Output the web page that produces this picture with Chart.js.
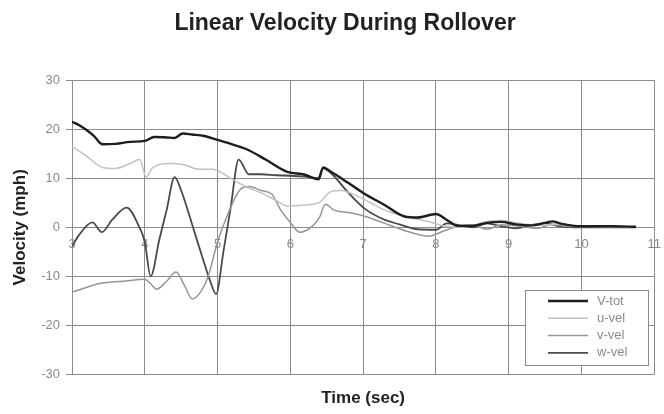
<!DOCTYPE html>
<html>
<head>
<meta charset="utf-8">
<script src="https://cdn.jsdelivr.net/npm/chart.js@4/dist/chart.umd.min.js"></script>
<style>
  html, body { margin: 0; padding: 0; background: #fff; }
</style>
</head>
<body>
<canvas id="chart" width="664" height="414"></canvas>
<script>
const TITLE = 'Linear Velocity During Rollover';
const X_TITLE = 'Time (sec)';
const Y_TITLE = 'Velocity (mph)';
const SERIES_LABELS = ['V-tot', 'u-vel', 'v-vel', 'w-vel'];

// temps (s) et valeurs (mph)
const T_VTOT = [3.0, 3.1, 3.2, 3.3, 3.42, 3.6, 3.8, 4.0, 4.13, 4.3, 4.41, 4.52, 4.65, 4.82, 5.0, 5.2, 5.4, 5.66, 5.94, 6.2, 6.39, 6.45, 6.56, 6.8, 7.0, 7.3, 7.57, 7.75, 8.0, 8.15, 8.3, 8.5, 8.7, 8.9, 9.1, 9.3, 9.5, 9.6, 9.7, 9.9, 10.1, 10.4, 10.75];
const VTOT = [21.5, 20.8, 19.8, 18.6, 16.9, 17.0, 17.4, 17.6, 18.4, 18.3, 18.2, 19.1, 18.9, 18.6, 17.8, 16.9, 15.9, 13.8, 11.4, 10.7, 9.8, 12.2, 11.3, 9.0, 7.0, 4.5, 2.2, 2.0, 2.7, 1.5, 0.3, 0.3, 0.9, 1.1, 0.6, 0.4, 0.9, 1.2, 0.8, 0.3, 0.2, 0.2, 0.1];

const T_U = [3.0, 3.2, 3.42, 3.6, 3.8, 3.93, 4.02, 4.1, 4.2, 4.35, 4.52, 4.75, 4.93, 5.05, 5.2, 5.4, 5.6, 5.8, 5.97, 6.15, 6.39, 6.56, 6.7, 6.9, 7.1, 7.3, 7.5, 7.7, 7.9, 8.1, 8.3, 8.5, 8.7, 8.9, 9.1, 9.3, 9.5, 9.7, 9.9, 10.2, 10.5, 10.75];
const U_VEL = [16.5, 14.5, 12.2, 12.0, 13.0, 13.8, 10.2, 12.0, 12.8, 13.0, 12.8, 11.8, 11.8, 11.2, 9.8, 8.2, 7.0, 5.5, 4.3, 4.5, 5.0, 7.3, 7.5, 6.5, 5.0, 3.5, 2.5, 1.8, 1.2, 0.3, 0.0, 0.3, 1.2, 1.4, 0.9, 0.5, 0.4, 0.6, 0.2, 0.2, 0.1, 0.0];

const T_V = [3.0, 3.4, 3.7, 4.0, 4.08, 4.16, 4.3, 4.43, 4.55, 4.65, 4.75, 4.87, 5.0, 5.15, 5.3, 5.43, 5.6, 5.75, 5.86, 6.0, 6.13, 6.3, 6.4, 6.48, 6.6, 6.8, 7.03, 7.3, 7.6, 7.9, 8.1, 8.3, 8.5, 8.7, 8.9, 9.1, 9.4, 9.6, 9.8, 10.1, 10.4, 10.75];
const V_VEL = [-13.2, -11.4, -11.0, -10.6, -11.5, -12.6, -11.0, -9.1, -12.0, -14.6, -13.5, -10.0, -3.0, 3.0, 7.5, 8.3, 7.5, 6.7, 3.7, 1.0, -1.0, 0.2, 2.0, 4.7, 3.5, 3.0, 2.2, 0.8, -0.8, -1.8, -0.8, 0.2, 0.5, -0.4, 0.5, 0.3, -0.2, 0.6, 0.2, 0.1, 0.0, 0.0];

const T_W = [3.0, 3.1, 3.28, 3.41, 3.55, 3.75, 3.92, 4.0, 4.08, 4.2, 4.3, 4.41, 4.5, 4.6, 4.7, 4.8, 4.9, 4.98, 5.08, 5.18, 5.29, 5.43, 5.6, 5.8, 6.0, 6.2, 6.38, 6.45, 6.56, 6.8, 7.03, 7.3, 7.5, 7.75, 8.0, 8.15, 8.3, 8.5, 8.7, 8.9, 9.1, 9.3, 9.5, 9.7, 10.0, 10.4, 10.75];
const W_VEL = [-3.9, -1.5, 1.0, -1.0, 1.5, 4.0, 0.2, -3.0, -10.0, -2.5, 3.5, 10.2, 7.5, 3.0, -1.8, -6.5, -11.0, -13.6, -5.0, 4.0, 13.8, 10.8, 10.8, 10.6, 10.5, 10.3, 10.0, 12.0, 11.0, 7.0, 3.7, 1.5, 0.6, -0.4, -0.5, 0.8, 0.5, 0.0, 0.8, 0.2, -0.2, 0.4, 0.8, 0.2, 0.0, 0.0, 0.0];

const X_MIN = 3, X_MAX = 11, Y_MIN = -30, Y_MAX = 30;

const FONT = '"Liberation Sans", Arial, sans-serif';
const GRID = '#8c8c8c';
const TICK = '#8a8a8a';

function points(ts, vs) {
  return ts.map((t, i) => ({ x: t, y: vs[i] }));
}

function serie(label, ts, vs, color, width) {
  return {
    label,
    data: points(ts, vs),
    borderColor: color,
    borderWidth: width,
    pointRadius: 0,
    cubicInterpolationMode: 'monotone',
    fill: false,
  };
}

// titre centré comme sur l'original
const titrePlugin = {
  id: 'titre',
  afterDraw(chart) {
    const c = chart.ctx;
    c.save();
    c.font = `bold 23px ${FONT}`;
    c.fillStyle = '#222';
    c.textAlign = 'center';
    c.textBaseline = 'alphabetic';
    c.fillText(TITLE, 345, 30);
    c.restore();
  },
};

// légende encadrée dans le coin bas droit de la zone de tracé
const legendePlugin = {
  id: 'legende',
  afterDatasetsDraw(chart) {
    const c = chart.ctx;
    const x = 525, y = 290, w = 123, h = 75;
    c.save();
    c.fillStyle = '#fff';
    c.fillRect(x, y, w, h);
    c.strokeStyle = '#8c8c8c';
    c.lineWidth = 1;
    c.strokeRect(x + 0.5, y + 0.5, w, h);
    c.font = `13px ${FONT}`;
    c.textBaseline = 'middle';
    chart.data.datasets.forEach((ds, i) => {
      const ly = 301 + i * 17.3;
      c.strokeStyle = ds.borderColor;
      c.lineWidth = ds.borderWidth;
      c.beginPath();
      c.moveTo(548, ly);
      c.lineTo(588, ly);
      c.stroke();
      c.fillStyle = '#8a8a8a';
      c.fillText(ds.label, 597, ly);
    });
    c.restore();
  },
};

new Chart(document.getElementById('chart'), {
  type: 'line',
  data: {
    datasets: [
      serie(SERIES_LABELS[0], T_VTOT, VTOT, '#1e1e1e', 2.4),
      serie(SERIES_LABELS[1], T_U, U_VEL, '#c2c2c2', 1.5),
      serie(SERIES_LABELS[2], T_V, V_VEL, '#969696', 1.5),
      serie(SERIES_LABELS[3], T_W, W_VEL, '#4a4a4a', 1.8),
    ],
  },
  options: {
    responsive: false,
    animation: false,
    layout: { padding: { top: 80, right: 6, bottom: 5, left: 0 } },
    plugins: {
      legend: { display: false },
      tooltip: { enabled: false },
    },
    scales: {
      x: {
        type: 'linear',
        position: { y: 0 },
        min: X_MIN,
        max: X_MAX,
        ticks: { stepSize: 1, color: TICK, font: { family: FONT, size: 13 }, padding: 3, maxRotation: 0 },
        grid: { color: GRID, tickLength: 6 },
        border: { color: GRID },
      },
      xTitre: {
        type: 'linear',
        position: 'bottom',
        min: X_MIN,
        max: X_MAX,
        ticks: { display: false },
        grid: { display: false, drawTicks: false },
        border: { display: false },
        title: {
          display: true,
          text: X_TITLE,
          color: '#222',
          font: { family: FONT, size: 17, weight: 'bold' },
          padding: { top: 14, bottom: 0 },
        },
      },
      y: {
        min: Y_MIN,
        max: Y_MAX,
        ticks: { stepSize: 10, color: TICK, font: { family: FONT, size: 13 }, padding: 6 },
        grid: { color: GRID, tickLength: 6 },
        border: { color: GRID },
        title: {
          display: true,
          text: Y_TITLE,
          color: '#222',
          font: { family: FONT, size: 17, weight: 'bold' },
          padding: { top: 10, bottom: 0 },
        },
        afterFit(scale) {
          scale.width = 72;
        },
      },
    },
  },
  plugins: [titrePlugin, legendePlugin],
});
</script>
</body>
</html>
